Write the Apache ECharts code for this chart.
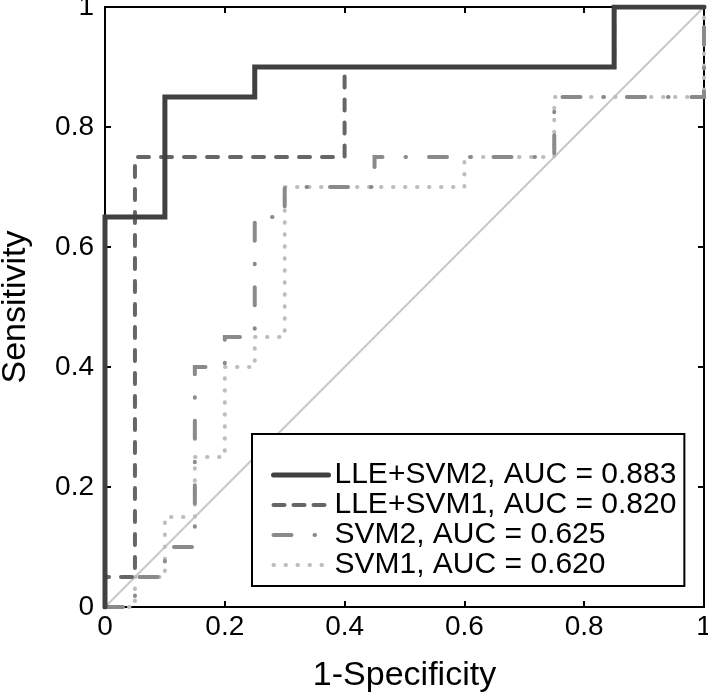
<!DOCTYPE html>
<html>
<head>
<meta charset="utf-8">
<script src="https://cdn.jsdelivr.net/npm/echarts@6/dist/echarts.min.js"></script>
<style>html,body{margin:0;padding:0;background:#fff;}#c{width:708px;height:694px;}</style>
</head>
<body>
<div id="c"></div>
<script>
// ROC curve vertices (1-Specificity, Sensitivity)
const lleSvm2X = [0, 0, 0.1, 0.1, 0.25, 0.25, 0.85, 0.85, 1];
const lleSvm2Y = [0, 0.65, 0.65, 0.85, 0.85, 0.9, 0.9, 1, 1];
const lleSvm1X = [0, 0, 0.05, 0.05, 0.4, 0.4, 0.85, 0.85, 1];
const lleSvm1Y = [0, 0.05, 0.05, 0.75, 0.75, 0.9, 0.9, 1, 1];
const svm2X = [0, 0.05, 0.05, 0.1, 0.1, 0.15, 0.15, 0.2, 0.2, 0.25, 0.25, 0.3, 0.3, 0.45, 0.45, 0.75, 0.75, 1, 1];
const svm2Y = [0, 0, 0.05, 0.05, 0.1, 0.1, 0.4, 0.4, 0.45, 0.45, 0.65, 0.65, 0.7, 0.7, 0.75, 0.75, 0.85, 0.85, 1];
const svm1X = [0, 0.05, 0.05, 0.1, 0.1, 0.15, 0.15, 0.2, 0.2, 0.25, 0.25, 0.3, 0.3, 0.6, 0.6, 0.75, 0.75, 1, 1];
const svm1Y = [0, 0, 0.05, 0.05, 0.15, 0.15, 0.25, 0.25, 0.4, 0.4, 0.45, 0.45, 0.7, 0.7, 0.75, 0.75, 0.85, 0.85, 1];
const chanceX = [0, 1];
const chanceY = [0, 1];
const seriesNames = ['LLE+SVM2, AUC = 0.883', 'LLE+SVM1, AUC = 0.820', 'SVM2, AUC = 0.625', 'SVM1, AUC = 0.620'];
const xTicks = [0, 0.2, 0.4, 0.6, 0.8, 1];
const yTicks = [0, 0.2, 0.4, 0.6, 0.8, 1];

const pairs = (xs, ys) => xs.map((x, i) => [x, ys[i]]);
const FONT = '"Liberation Sans", Arial, Helvetica, sans-serif';

const chart = echarts.init(document.getElementById('c'), null, {renderer: 'canvas'});

const axisCommon = {
  type: 'value', min: xTicks[0], max: xTicks[xTicks.length - 1], interval: 0.2,
  axisLine: {show: true, onZero: false, lineStyle: {color: '#000', width: 2}},
  axisTick: {show: true, inside: true, length: 6, lineStyle: {color: '#000', width: 2}},
  splitLine: {show: false}
};

const styles = [
  {color: '#404040', width: 5, type: 'solid'},
  {color: '#666666', width: 4, type: [11, 12]},
  {color: '#8a8a8a', width: 4, type: [18, 23, 0.5, 23]},
  {color: '#bdbdbd', width: 4, type: [0.5, 11.5]}
];

function lineSeries(name, xs, ys, st, z) {
  return {
    name: name, type: 'line', data: pairs(xs, ys), showSymbol: false, symbol: 'none',
    silent: true, animation: false, z: z,
    lineStyle: {color: st.color, width: st.width, type: st.type, cap: 'round', join: 'miter'},
    itemStyle: {color: st.color}
  };
}

const legendStyles = [
  {color: '#404040', width: 5, type: 'solid'},
  {color: '#666666', width: 4, type: [11, 9]},
  {color: '#8a8a8a', width: 4, type: [18, 23, 0.5, 23]},
  {color: '#bdbdbd', width: 4, type: [0.5, 11.5]}
];

chart.setOption({
  animation: false,
  backgroundColor: '#fff',
  textStyle: {fontFamily: FONT},
  grid: {left: 105, right: 4, top: 7, bottom: 87, containLabel: false, outerBoundsMode: 'none'},
  xAxis: [
    Object.assign({}, axisCommon, {
      position: 'bottom',
      name: '1-Specificity', nameLocation: 'middle', nameGap: 52,
      nameTextStyle: {fontSize: 34, color: '#000', fontFamily: FONT},
      axisLabel: {fontSize: 28, color: '#000', margin: 6, fontFamily: FONT,
        formatter: v => String(+v.toFixed(1))}
    }),
    Object.assign({}, axisCommon, {position: 'top', axisLabel: {show: false}})
  ],
  yAxis: [
    Object.assign({}, axisCommon, {
      position: 'left',
      name: 'Sensitivity', nameLocation: 'middle', nameGap: 72,
      nameTextStyle: {fontSize: 34, color: '#000', fontFamily: FONT},
      axisLabel: {fontSize: 28, color: '#000', margin: 11, fontFamily: FONT,
        formatter: v => String(+v.toFixed(1))}
    }),
    Object.assign({}, axisCommon, {position: 'right', axisLabel: {show: false}})
  ],
  legend: {
    show: true, orient: 'vertical', left: 252, top: 434,
    data: seriesNames.map((n, i) => ({
      name: n,
      itemStyle: {opacity: 0},
      lineStyle: {color: legendStyles[i].color, width: legendStyles[i].width, type: legendStyles[i].type, cap: 'round'}
    })),
    itemWidth: 55, itemHeight: 14, itemGap: 0,
    padding: [26, 8, 6, 19],
    borderColor: '#000', borderWidth: 2, backgroundColor: '#fff',
    itemStyle: {opacity: 0},
    textStyle: {fontSize: 30, color: '#000', fontFamily: FONT, lineHeight: 29, padding: [0, 0, 0, 1]},
    selectedMode: false
  },
  series: [
    lineSeries('chance', chanceX, chanceY, {color: '#c8c8c8', width: 2, type: 'solid'}, 1),
    lineSeries(seriesNames[3], svm1X, svm1Y, styles[3], 2),
    lineSeries(seriesNames[2], svm2X, svm2Y, styles[2], 3),
    lineSeries(seriesNames[1], lleSvm1X, lleSvm1Y, styles[1], 4),
    lineSeries(seriesNames[0], lleSvm2X, lleSvm2Y, styles[0], 5)
  ]
});
</script>
</body>
</html>
